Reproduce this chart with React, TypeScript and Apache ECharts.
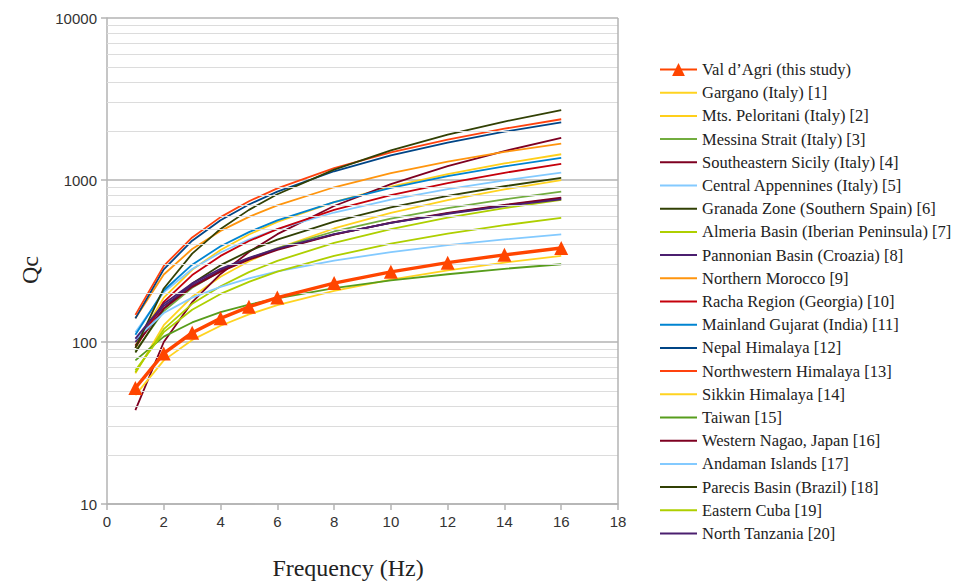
import React, { useEffect, useRef } from "react";
import * as echarts from "echarts";

const freqs = [1, 2, 3, 4, 5, 6, 8, 10, 12, 14, 16];
const yTickLabels = ["10", "100", "1000", "10000"];
const xTickLabels = ["0", "2", "4", "6", "8", "10", "12", "14", "16", "18"];
const minorGridValues = [
  20, 30, 40, 50, 60, 70, 80, 90,
  200, 300, 400, 500, 600, 700, 800, 900,
  2000, 3000, 4000, 5000, 6000, 7000, 8000, 9000,
];

const valDAgri = [52, 85, 114, 140, 165, 188, 231, 271, 309, 345, 380];
const gargano = [64, 127, 190, 253, 315, 378, 502, 627, 751, 875, 999];
const peloritani = [95, 188, 279, 370, 461, 551, 731, 909, 1088, 1265, 1442];
const messina = [88, 155, 216, 273, 328, 380, 481, 577, 670, 760, 848];
const seSicily = [38, 100, 176, 263, 359, 463, 691, 944, 1217, 1509, 1818];
const centralApp = [115, 203, 282, 357, 429, 498, 630, 756, 878, 996, 1111];
const granada = [86, 160, 230, 298, 364, 428, 554, 677, 797, 915, 1031];
const almeria = [65, 120, 172, 221, 270, 317, 409, 498, 585, 670, 754];
const pannonian = [100, 167, 224, 277, 327, 374, 462, 544, 623, 698, 770];
const morocco = [140, 261, 375, 485, 592, 697, 902, 1102, 1298, 1490, 1679];
const racha = [92, 177, 259, 340, 420, 498, 654, 807, 958, 1108, 1257];
const gujarat = [111, 208, 300, 390, 477, 563, 730, 894, 1055, 1213, 1369];
const nepal = [140, 281, 422, 564, 706, 848, 1132, 1417, 1701, 1986, 2271];
const nwHimalaya = [147, 295, 442, 590, 739, 887, 1183, 1480, 1777, 2074, 2371];
const sikkin = [47, 77, 103, 126, 148, 169, 207, 243, 277, 309, 340];
const taiwan = [77, 108, 132, 153, 170, 186, 215, 240, 262, 283, 302];
const nagao = [95, 161, 219, 272, 322, 370, 460, 545, 626, 703, 778];
const andaman = [104, 151, 188, 219, 247, 273, 318, 359, 396, 430, 462];
const parecis = [92, 214, 351, 499, 654, 817, 1160, 1524, 1903, 2296, 2702];
const easternCuba = [67, 115, 158, 198, 235, 272, 340, 405, 467, 526, 584];
const northTanzania = [105, 172, 230, 283, 331, 377, 463, 543, 619, 691, 760];

const seriesNames = [
  "Val d\u2019Agri (this study)",
  "Gargano (Italy) [1]",
  "Mts. Peloritani (Italy) [2]",
  "Messina Strait (Italy) [3]",
  "Southeastern Sicily (Italy) [4]",
  "Central Appennines (Italy) [5]",
  "Granada Zone (Southern Spain) [6]",
  "Almeria Basin (Iberian Peninsula) [7]",
  "Pannonian Basin (Croazia) [8]",
  "Northern Morocco [9]",
  "Racha Region (Georgia) [10]",
  "Mainland Gujarat (India) [11]",
  "Nepal Himalaya [12]",
  "Northwestern Himalaya [13]",
  "Sikkin Himalaya [14]",
  "Taiwan [15]",
  "Western Nagao, Japan [16]",
  "Andaman Islands [17]",
  "Parecis Basin (Brazil) [18]",
  "Eastern Cuba [19]",
  "North Tanzania [20]",
];

const seriesValues = [
  valDAgri, gargano, peloritani, messina, seSicily, centralApp, granada,
  almeria, pannonian, morocco, racha, gujarat, nepal, nwHimalaya, sikkin,
  taiwan, nagao, andaman, parecis, easternCuba, northTanzania,
];

const seriesColors = [
  "#ff4500", "#ffd320", "#ffcf1a", "#72ad3f", "#7e0021", "#83caff", "#314004",
  "#aecf00", "#4b1f6f", "#ff950e", "#c5000b", "#0084d1", "#004586", "#ff420e",
  "#ffd320", "#579d1c", "#7e0021", "#83caff", "#314004", "#aecf00", "#4b1f6f",
];

const xAxisTitle = "Frequency (Hz)";
const yAxisTitle = "Qc";

export default function App() {
  const ref = useRef<HTMLDivElement>(null);

  useEffect(() => {
    if (!ref.current) return;
    const chart = echarts.init(ref.current, null, { renderer: "svg" });

    const series: any[] = seriesNames.map((name, i) => {
      const isMain = i === 0;
      return {
        name,
        type: "line",
        data: freqs.map((f, k) => [f, seriesValues[i][k]]),
        symbol: isMain ? "triangle" : "none",
        symbolSize: isMain ? 14 : 0,
        showSymbol: isMain,
        z: isMain ? 10 : 3,
        itemStyle: { color: seriesColors[i] },
        lineStyle: { color: seriesColors[i], width: isMain ? 3.5 : 1.8 },
        emphasis: { disabled: true },
      };
    });

    // minor grid lines and right border, placed through the axes' scales
    series.unshift({
      name: "__grid",
      type: "line",
      data: [],
      silent: true,
      z: 1,
      markLine: {
        silent: true,
        symbol: ["none", "none"],
        label: { show: false },
        animation: false,
        lineStyle: { color: "#dcdcdc", width: 1.2, type: "solid" },
        data: [
          ...minorGridValues.map((v) => ({ yAxis: v })),
          { xAxis: 18, lineStyle: { color: "#b3b3b3", width: 1.5, type: "solid" } },
        ],
      },
    });

    chart.setOption({
      animation: false,
      backgroundColor: "#ffffff",
      grid: { left: 107, right: 335, top: 18, bottom: 77, containLabel: false },
      legend: {
        orient: "vertical",
        left: 654,
        top: 56,
        itemWidth: 37,
        itemHeight: 16,
        itemGap: 6.2,
        selectedMode: false,
        data: seriesNames.map((name, i) =>
          i === 0 ? { name } : { name, itemStyle: { opacity: 0 } }
        ),
        textStyle: {
          fontFamily: "Liberation Serif",
          fontSize: 16.5,
          lineHeight: 16,
          color: "#222",
        },
      },
      graphic: [
        {
          id: "xtitle",
          type: "text",
          x: 348,
          y: 568,
          style: {
            text: xAxisTitle,
            align: "center",
            verticalAlign: "middle",
            fontFamily: "Liberation Serif",
            fontSize: 24,
            fill: "#222",
          },
        },
        {
          id: "ytitle",
          type: "text",
          x: 30,
          y: 270,
          rotation: Math.PI / 2,
          style: {
            text: yAxisTitle,
            align: "center",
            verticalAlign: "middle",
            fontFamily: "Liberation Serif",
            fontSize: 24,
            fill: "#222",
          },
        },
      ],
      xAxis: {
        type: "value",
        min: 0,
        max: 18,
        interval: 2,
        axisLine: { show: true, lineStyle: { color: "#b3b3b3", width: 1.5 } },
        axisTick: { show: true, length: 6, lineStyle: { color: "#b3b3b3", width: 1.5 } },
        splitLine: { show: false },
        axisLabel: {
          fontFamily: "Liberation Sans",
          fontSize: 15,
          color: "#333",
          margin: 10,
          formatter: (v: number) => xTickLabels[Math.round(v / 2)] ?? String(v),
        },
      },
      yAxis: {
        type: "log",
        logBase: 10,
        min: 10,
        max: 10000,
        axisLine: { show: true, lineStyle: { color: "#b3b3b3", width: 1.5 } },
        axisTick: { show: true, length: 6, lineStyle: { color: "#b3b3b3", width: 1.5 } },
        splitLine: { show: true, lineStyle: { color: "#b3b3b3", width: 1.5 } },
        axisLabel: {
          fontFamily: "Liberation Sans",
          fontSize: 15,
          color: "#333",
          margin: 10,
          formatter: (v: number) => {
            const idx = Math.round(Math.log10(v)) - 1;
            return yTickLabels[idx] ?? String(v);
          },
        },
      },
      series,
    });

    return () => chart.dispose();
  }, []);

  return (
    <div
      ref={ref}
      style={{ position: "fixed", left: 0, top: 0, width: 953, height: 581, background: "#fff" }}
    />
  );
}
